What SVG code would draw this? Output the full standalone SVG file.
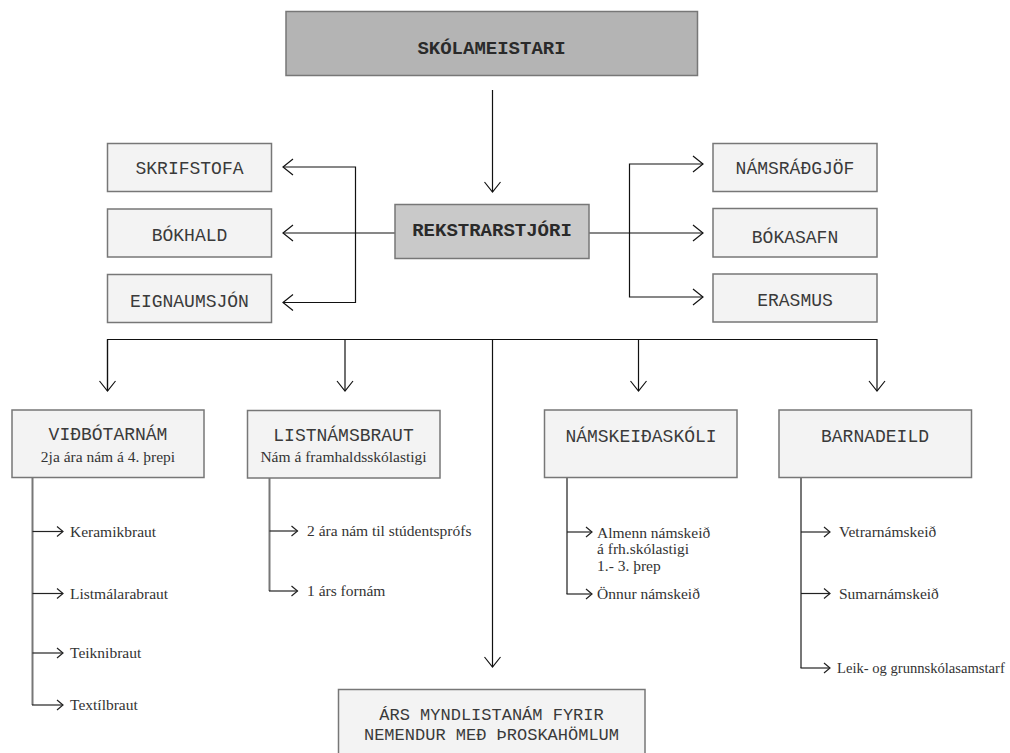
<svg xmlns="http://www.w3.org/2000/svg" width="1010" height="753" viewBox="0 0 1010 753">
<style>
.box{fill:#f3f3f3;stroke:#777;stroke-width:1.5}
.mono{font-family:"Liberation Mono","DejaVu Sans Mono",monospace;fill:#3a3a3a;text-anchor:middle}
.t18{font-size:18px}
.t17{font-size:17px}
.big{font-size:19px;font-weight:bold;fill:#2a2a2a}
.serif{font-family:"Liberation Serif","Times New Roman",serif;font-size:15.5px;fill:#333}
.sub{text-anchor:middle}
.ln{fill:none;stroke:#111;stroke-width:1.2}
.gl{fill:none;stroke:#777;stroke-width:2}
.sl{fill:none;stroke:#222;stroke-width:1.2}
</style>
<defs>
<marker id="ah" markerUnits="userSpaceOnUse" markerWidth="24" markerHeight="24" refX="12" refY="12" orient="auto" overflow="visible">
<path d="M2,4 L12,12 L2,20" fill="none" stroke="#111" stroke-width="1.2"/>
</marker>
<marker id="sa" markerUnits="userSpaceOnUse" markerWidth="16" markerHeight="16" refX="8" refY="8" orient="auto" overflow="visible">
<path d="M2,3 L8,8 L2,13" fill="none" stroke="#222" stroke-width="1.2"/>
</marker>
</defs>

<g id="connectors">
<path class="ln" d="M492.5,90 V192" marker-end="url(#ah)"/>
<path class="ln" d="M395,233 H283" marker-end="url(#ah)"/>
<path class="ln" d="M355.5,233 V167 H283" marker-end="url(#ah)"/>
<path class="ln" d="M355.5,233 V302.5 H283" marker-end="url(#ah)"/>
<path class="ln" d="M589,233 H703" marker-end="url(#ah)"/>
<path class="ln" d="M629.5,233 V164 H703" marker-end="url(#ah)"/>
<path class="ln" d="M629.5,233 V297 H703" marker-end="url(#ah)"/>
<path class="ln" d="M107.5,391 V339.5 H877 V391" marker-end="url(#ah)"/>
<path class="ln" d="M345,339.5 V391" marker-end="url(#ah)"/>
<path class="ln" d="M638.5,339.5 V391" marker-end="url(#ah)"/>
<path class="ln" d="M107.5,339.5 V391" marker-end="url(#ah)"/>
<path class="ln" d="M492.5,339.5 V667" marker-end="url(#ah)"/>
<path class="gl" d="M32.5,477.5 V705"/>
<path class="sl" d="M32.5,531.5 H63" marker-end="url(#sa)"/>
<path class="sl" d="M32.5,593.5 H63" marker-end="url(#sa)"/>
<path class="sl" d="M32.5,653 H63" marker-end="url(#sa)"/>
<path class="sl" d="M32,705 H63" marker-end="url(#sa)"/>
<path class="gl" d="M269.5,478 V591"/>
<path class="sl" d="M269.5,531 H297.5" marker-end="url(#sa)"/>
<path class="sl" d="M269,591 H297.5" marker-end="url(#sa)"/>
<path class="gl" d="M567,477.5 V594"/>
<path class="sl" d="M567,532 H592" marker-end="url(#sa)"/>
<path class="sl" d="M566.5,594 H592" marker-end="url(#sa)"/>
<path class="gl" d="M801,477.5 V668"/>
<path class="sl" d="M801,532 H830" marker-end="url(#sa)"/>
<path class="sl" d="M801,593.5 H830" marker-end="url(#sa)"/>
<path class="sl" d="M800.5,668 H830" marker-end="url(#sa)"/>
</g>

<g id="skolameistari">
<rect x="286" y="11.5" width="411.5" height="64" fill="#b4b4b4" stroke="#777" stroke-width="1.5"/>
<text class="mono big" x="491.5" y="53.5">SKÓLAMEISTARI</text>
</g>
<g id="rekstrarstjori">
<rect x="395" y="204.5" width="194" height="54" fill="#c9c9c9" stroke="#777" stroke-width="1.5"/>
<text class="mono big" x="492" y="235.5">REKSTRARSTJÓRI</text>
</g>
<g id="skrifstofa">
<rect class="box" x="107.5" y="143.5" width="164" height="48"/>
<text class="mono t18" x="189.5" y="174">SKRIFSTOFA</text>
</g>
<g id="bokhald">
<rect class="box" x="107.5" y="209" width="164" height="48"/>
<text class="mono t18" x="189.5" y="240.5">BÓKHALD</text>
</g>
<g id="eignaumsjon">
<rect class="box" x="107.5" y="274.5" width="164" height="48"/>
<text class="mono t18" x="189.5" y="306.5">EIGNAUMSJÓN</text>
</g>
<g id="namsradgjof">
<rect class="box" x="713" y="143.5" width="164" height="48"/>
<text class="mono t18" x="795" y="173.5">NÁMSRÁÐGJÖF</text>
</g>
<g id="bokasafn">
<rect class="box" x="713" y="208.5" width="164" height="48.5"/>
<text class="mono t18" x="795" y="242.5">BÓKASAFN</text>
</g>
<g id="erasmus">
<rect class="box" x="713" y="274" width="164" height="48"/>
<text class="mono t18" x="795" y="306">ERASMUS</text>
</g>

<g id="vidbotarnam">
<rect class="box" x="12" y="410" width="192" height="67.5"/>
<text class="mono t18" x="108" y="440">VIÐBÓTARNÁM</text>
<text class="serif sub" x="108" y="461.5">2ja ára nám á 4. þrepi</text>
</g>
<g id="listnamsbraut">
<rect class="box" x="247.5" y="410.5" width="192.5" height="67.5"/>
<text class="mono t18" x="343.5" y="440.5">LISTNÁMSBRAUT</text>
<text class="serif sub" x="343.5" y="461.5">Nám á framhaldsskólastigi</text>
</g>
<g id="namskeidaskoli">
<rect class="box" x="544.5" y="410" width="192.5" height="67.5"/>
<text class="mono t18" x="641" y="441.5">NÁMSKEIÐASKÓLI</text>
</g>
<g id="barnadeild">
<rect class="box" x="779" y="410" width="192.5" height="67.5"/>
<text class="mono t18" x="875" y="441.5">BARNADEILD</text>
</g>
<g id="arsmyndlistanam">
<rect class="box" x="338.5" y="689.5" width="306.5" height="70"/>
<text class="mono t17" x="491.5" y="720">ÁRS MYNDLISTANÁM FYRIR</text>
<text class="mono t17" x="491.5" y="740">NEMENDUR MEÐ ÞROSKAHÖMLUM</text>
</g>

<g id="items">
<text class="serif" x="70" y="536.5">Keramikbraut</text>
<text class="serif" x="70" y="598.5">Listmálarabraut</text>
<text class="serif" x="70" y="658">Teiknibraut</text>
<text class="serif" x="70" y="710">Textílbraut</text>
<text class="serif" x="307" y="536">2 ára nám til stúdentsprófs</text>
<text class="serif" x="307" y="596">1 árs fornám</text>
<text class="serif" x="597" y="537.5">Almenn námskeið</text>
<text class="serif" x="597" y="554">á frh.skólastigi</text>
<text class="serif" x="597" y="570.5">1.- 3. þrep</text>
<text class="serif" x="597" y="599">Önnur námskeið</text>
<text class="serif" x="839" y="537">Vetrarnámskeið</text>
<text class="serif" x="839" y="598.5">Sumarnámskeið</text>
<text class="serif" x="837" y="673" style="font-size:14.6px">Leik- og grunnskólasamstarf</text>
</g>
</svg>
